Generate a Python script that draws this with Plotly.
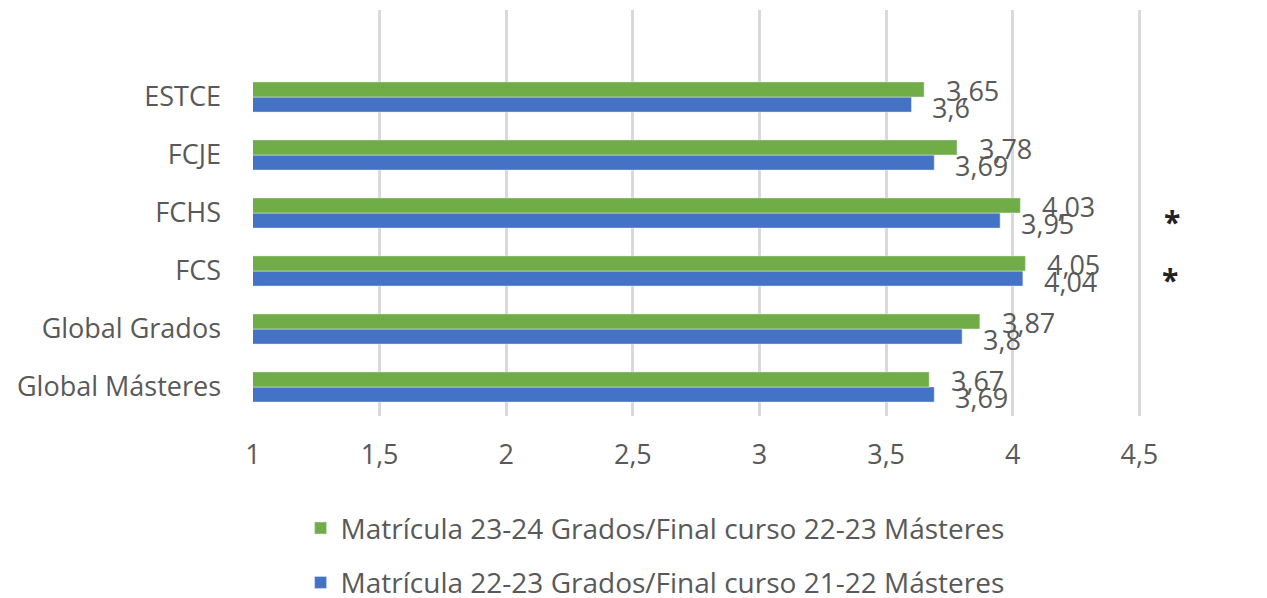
import plotly.graph_objects as go

categories = ["ESTCE", "FCJE", "FCHS", "FCS", "Global Grados", "Global Másteres"]
serie_23_24 = [3.65, 3.78, 4.03, 4.05, 3.87, 3.67]
serie_22_23 = [3.60, 3.69, 3.95, 4.04, 3.80, 3.69]
name_23_24 = "Matrícula 23-24 Grados/Final curso 22-23 Másteres"
name_22_23 = "Matrícula 22-23 Grados/Final curso 21-22 Másteres"
asterisk_cats = ["FCHS", "FCS"]
asterisk_x = [4.63, 4.62]
x_ticks = [1, 1.5, 2, 2.5, 3, 3.5, 4, 4.5, 5]
x_tick_labels = ["1", "1,5", "2", "2,5", "3", "3,5", "4", "4,5", "5"]

GREEN = "#70AD47"
BLUE = "#4472C4"
TXT = "#595959"
FONT = "Open Sans"
FS = 27

fmt = lambda v: f"{v:g}".replace(".", ",")

fig = go.Figure()
fig.add_trace(go.Bar(
    y=categories, x=serie_22_23, orientation="h", name=name_22_23,
    marker=dict(color=BLUE), legendgroup="b", legendrank=2,
))
fig.add_trace(go.Bar(
    y=categories, x=serie_23_24, orientation="h", name=name_23_24,
    marker=dict(color=GREEN), legendgroup="a", legendrank=1,
))

annotations = []
for c, g, b in zip(categories, serie_23_24, serie_22_23):
    annotations.append(dict(x=g, y=c, text=fmt(g), xanchor="left", yanchor="middle",
                            xshift=20, yshift=7, showarrow=False,
                            font=dict(family=FONT, size=FS, color=TXT)))
    annotations.append(dict(x=b, y=c, text=fmt(b), xanchor="left", yanchor="middle",
                            xshift=19, yshift=-10, showarrow=False,
                            font=dict(family=FONT, size=FS, color=TXT)))
for c, xv in zip(asterisk_cats, asterisk_x):
    annotations.append(dict(x=xv, y=c, text="<b>*</b>", xanchor="center", yanchor="middle",
                            yshift=-8, showarrow=False,
                            font=dict(family=FONT, size=30, color="#222222")))

cat_order = list(reversed(categories)) + [" "]

fig.update_layout(
    width=1259, height=590,
    margin=dict(l=245, r=1, t=2, b=182, autoexpand=False),
    paper_bgcolor="white", plot_bgcolor="white",
    barmode="group", bargap=0.48, bargroupgap=0,
    font=dict(family=FONT, size=FS, color=TXT),
    xaxis=dict(range=[1, 5], tickvals=x_ticks, ticktext=x_tick_labels,
               showgrid=True, gridcolor="#D9D9D9", gridwidth=3,
               zeroline=False, showline=False, ticks="", automargin=False,
               ticklabeloverflow="allow",
               tickfont=dict(family=FONT, size=FS, color=TXT), ticklabelstandoff=20),
    yaxis=dict(type="category", categoryorder="array", categoryarray=cat_order,
               range=[-0.5, 6.5], showgrid=False, zeroline=False, showline=False,
               ticks="", ticklabelstandoff=31, automargin=False,
               tickfont=dict(family=FONT, size=FS, color=TXT)),
    legend=dict(orientation="v", x=0.047, xanchor="left", y=-0.215, yanchor="top",
                traceorder="grouped", tracegroupgap=15,
                font=dict(family=FONT, size=28, color=TXT)),
    annotations=annotations,
)

fig.write_html("out.html")
